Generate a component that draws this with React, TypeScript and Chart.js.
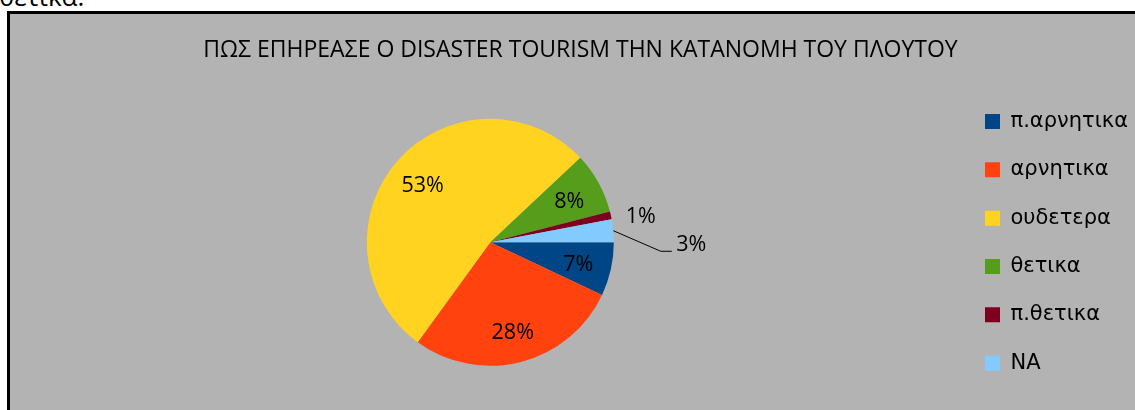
import { useEffect, useRef } from 'react';
import { Chart, registerables } from 'chart.js';

Chart.register(...registerables);

const titleText = 'ΠΩΣ ΕΠΗΡΕΑΣΕ Ο DISASTER TOURISM ΤΗΝ ΚΑΤΑΝΟΜΗ ΤΟΥ ΠΛΟΥΤΟΥ';
const categories = ['π.αρνητικα', 'αρνητικα', 'ουδετερα', 'θετικα', 'π.θετικα', 'NA'];
const shares = [7, 28, 53, 8, 1, 3];
const sliceColors = ['#004586', '#ff420e', '#ffd320', '#579d1c', '#7e0021', '#83caff'];
const labelModes = ['inside', 'inside', 'inside', 'inside', 'outside', 'leader'];

const sliceLabelPlugin = {
  id: 'sliceLabels',
  afterDatasetsDraw(chart: any) {
    const ctx = chart.ctx as CanvasRenderingContext2D;
    const meta = chart.getDatasetMeta(0);
    const data = chart.data.datasets[0].data as number[];
    const total = data.reduce((a, b) => a + b, 0);
    ctx.save();
    ctx.font = '21.5px "Open Sans"';
    ctx.fillStyle = '#000';
    ctx.strokeStyle = '#000';
    ctx.lineWidth = 1;
    ctx.textBaseline = 'middle';
    meta.data.forEach((arc: any, i: number) => {
      const { x, y, startAngle, endAngle, outerRadius } = arc.getProps(
        ['x', 'y', 'startAngle', 'endAngle', 'outerRadius'],
        true
      );
      const mid = (startAngle + endAngle) / 2;
      const cos = Math.cos(mid);
      const sin = Math.sin(mid);
      const text = Math.round((data[i] / total) * 100) + '%';
      const mode = labelModes[i];
      if (mode === 'inside') {
        ctx.textAlign = 'center';
        ctx.fillText(text, x + cos * outerRadius * 0.73, y + sin * outerRadius * 0.73 + 3);
      } else {
        const ex = x + cos * outerRadius;
        const ey = y + sin * outerRadius;
        if (mode === 'outside') {
          ctx.textAlign = 'center';
          ctx.fillText(text, ex + 30, ey + 2);
        } else {
          ctx.beginPath();
          ctx.moveTo(ex, ey);
          ctx.lineTo(ex + 47.5, ey + 20.6);
          ctx.lineTo(ex + 58.5, ey + 20.6);
          ctx.stroke();
          ctx.textAlign = 'left';
          ctx.fillText(text, ex + 63, ey + 14.6);
        }
      }
    });
    ctx.restore();
  },
};

export default function App() {
  const canvasRef = useRef<HTMLCanvasElement | null>(null);

  useEffect(() => {
    if (!canvasRef.current) return;
    const chart = new Chart(canvasRef.current, {
      type: 'pie',
      data: {
        labels: categories,
        datasets: [
          {
            data: shares,
            backgroundColor: sliceColors,
            borderWidth: 0,
            radius: 123.5,
          } as any,
        ],
      },
      options: {
        animation: false,
        responsive: true,
        maintainAspectRatio: false,
        rotation: 90,
        layout: { padding: { left: 13, right: 16, top: 0, bottom: 1 } },
        plugins: {
          title: {
            display: true,
            text: titleText,
            color: '#000',
            font: { family: '"Open Sans"', size: 23, weight: 'normal' as any },
            padding: { top: 23, bottom: 11 },
          },
          legend: {
            display: true,
            position: 'right',
            fullSize: false,
            labels: {
              color: '#000',
              font: { family: '"DejaVu Sans"', size: 21 },
              boxWidth: 15,
              boxHeight: 15,
              padding: 27.35,
            },
          },
          tooltip: { enabled: false },
        },
      },
      plugins: [sliceLabelPlugin],
    });
    return () => chart.destroy();
  }, []);

  return (
    <div
      style={{
        position: 'absolute',
        left: 0,
        top: 0,
        width: 1135,
        height: 410,
        overflow: 'hidden',
        background: '#fff',
      }}
    >
      <div
        style={{
          position: 'absolute',
          left: -1,
          top: -17.4,
          fontFamily: '"Open Sans"',
          fontSize: 26,
          lineHeight: '26px',
          whiteSpace: 'nowrap',
          color: '#000',
        }}
      >
        θετικα.
      </div>
      <div
        style={{
          position: 'absolute',
          left: 7,
          top: 11,
          width: 1144,
          height: 400,
          border: '3px solid #000',
          background: '#b3b3b3',
        }}
      >
        <div style={{ position: 'relative', width: 1144, height: 396 }}>
          <canvas ref={canvasRef} />
        </div>
      </div>
    </div>
  );
}
